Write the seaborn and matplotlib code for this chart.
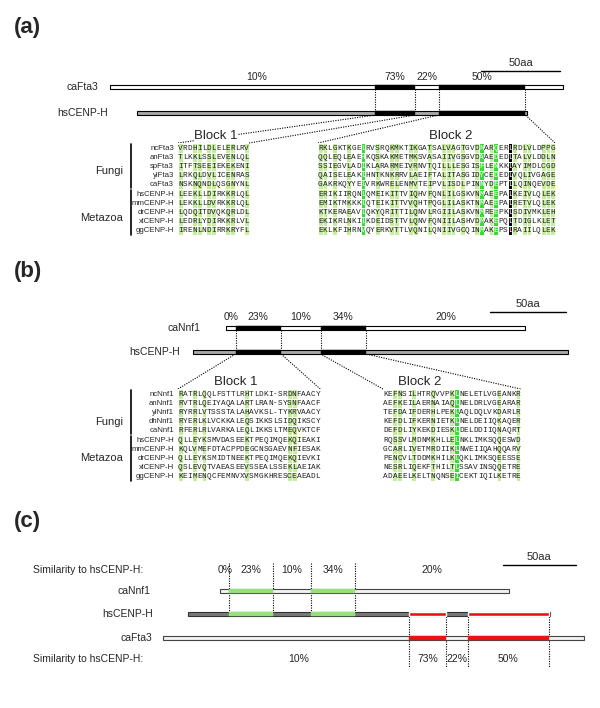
import numpy as np
import seaborn as sns
import matplotlib.pyplot as plt
from matplotlib.colors import ListedColormap

# protein coordinates given in hsCENP-H residues
hs_len = 247
fta3_span = (-17, 270)
fta3_blocks = [(151, 176), (191, 246)]
fta3_pct = ["10%", "73%", "22%", "50%"]
nnf1_span = (22, 219)
nnf1_blocks = [(28, 58), (84, 114)]
nnf1_pct = ["0%", "23%", "10%", "34%", "20%"]
scale_aa = 50

fungi_fta3 = ["ncFta3", "anFta3", "spFta3", "ylFta3", "caFta3"]
fungi_nnf1 = ["ncNnf1", "anNnf1", "ylNnf1", "dhNnf1", "caNnf1"]
metazoa = ["hsCENP-H", "mmCENP-H", "drCENP-H", "xlCENP-H", "ggCENP-H"]

fta3_block1 = [
    "VRDHILDLELERLRV", "TLKKLSSLEVENLQL", "ITFTSEEIEKEKENI",
    "LRKQLDVLICENRAS", "NSKNQNDLQSGNYNL", "LEEKLLDIRKKRLQL",
    "LEKKLLDVRKKRLQL", "LQDQITDVQKQRLDL", "LEDRLYDIRKKRLVL",
    "IRENLNDIRRKRYFL",
]
fta3_block2 = [
    "RKLGKTKGELRVSRQKMKTIKGATSALVAGTGVDNARQERLRDLVLDPPG",
    "QQLEQLEAEHKQSKAKMETMKSVASAIIVGSGVDAAEDEDLTALVLDDLN",
    "SSIEGVLADLKLARARMEIVRNVTQILLLESGISFLENKKLAYIMDLCGD",
    "QAISELEAKLHNTKNKRRVLAEIFTALITASGIDYCEDEDLVQLIVGAGE",
    "GAKRKQYYELVRKWRELENMVTEIPVLISDLPINNYDEPTLLQINQEVDE",
    "ERIKIIRQNLQMEIKITTVIQHVFQNLILGSKVNMAEEPALKEIVLQLEK",
    "EMIKTMKKKLQTEIKITTVVQHTPQGLILASKTNMAEEPALRETVLQLEK",
    "KTKERAEAVLQKYQRITTILQNVLRGIILASKVNMREEPKLSDIVMKLEH",
    "EKIKRLNKILKDEIDSTTVLQNVFQNIILASHVDMAKEPQLTDIGLKLET",
    "EKLKFIHRNVQYERKVTTLVQNILQNIIVGCQINMAKEPSLRAIILQLEK",
]
nnf1_block1 = [
    "RATRLQQLFSTTLRHTLDKI-SRDNFAACY", "RVTRLQEIYAQALARTLRAN-SYSNFAACF",
    "RYRRLVTSSSTALAHAVKSL-TYKRVAACY", "RYERLKLVCKKALEQSIKKSLSIDQIKSCY",
    "RFERLRLVARKALEQLIKKSLTMEQVKTCF", "QLLEYKSMVDASEEKTPEQIMQEKQIEAKI",
    "KQLVMEFDTACPPDEGCNSGAEVNFIESAK", "QLLEYKSMIDTNEEKTPEQIMQEKQIEVKI",
    "QSLEVQTVAEASEEVSSEALSSEKLAEIAK", "KEIMENQCFEMNVXVSMGKHRESCEAEADL",
]
nnf1_block2 = [
    "KEFNSILHTRQVVPKLNELETLVGEANKR", "AEFKEILAERNAIAQLNELDRLVGEARAR",
    "TEFDAIFDERHLPEKLAQLDQLVKDARLR", "KEFDLIFKERNIETKLNELDEIIQKAQER",
    "DEFDLIYKEKDIESKLDELDDIIQNAQRT", "RQSSVLMDNMKHLLELNKLIMKSQQESWD",
    "GCARLIVETMRDIIKLNWEIIQAHQQARV", "PENCVLTDDMKHILKLQKLIMKSQEESSE",
    "NESRLIQEKFTHILTLSSAVINSQQETRE", "ADAEELKELTNQNSEICEKTIQILKETRE",
]

# highlighted alignment columns (1-based)
fta3_b1_light = [1, 4, 5, 7, 8, 11, 12, 15]
fta3_b2_light = [1, 2, 4, 7, 13, 16, 17, 20, 21, 24, 27, 28, 29, 31, 34,
                 37, 42, 44, 45, 48, 49, 50]
fta3_b2_bright = [10, 35, 38]
fta3_b2_black = [41]
nnf1_b1_light = [1, 4, 6, 15, 24, 25]
nnf1_b2_light = [3, 4, 7, 11, 15, 25, 29]
nnf1_b2_bright = [16]

W, H = 600, 708
CW, RH = 4.74, 9.2

sns.set_theme(style="white")
plt.rcParams["font.family"] = ["Liberation Sans", "DejaVu Sans"]

fig = plt.figure(figsize=(6, 7.08), dpi=100)
ax = fig.add_axes([0, 0, 1, 1])
ax.set_xlim(0, W)
ax.set_ylim(H, 0)
ax.axis("off")

dot = dict(color="black", lw=0.8, ls=(0, (1, 1.2)), zorder=1)


def px(panel, aa):
    x0, s = panel
    return x0 + aa * s


def protein(panel, y, span, fill, edge="black", h=4.5, segs=(),
            seg_color="black", seg_h=None):
    x0, s = panel
    ax.barh(y, (span[1] - span[0]) * s, left=px(panel, span[0]), height=h,
            color=fill, edgecolor=edge, lw=0.8, zorder=2)
    for a, b in segs:
        ax.barh(y, (b - a) * s, left=px(panel, a), height=seg_h or h,
                color=seg_color, edgecolor=seg_color, lw=0.3, zorder=3)


def pct_labels(panel, y, bounds, labels):
    for a, b, t in zip(bounds[:-1], bounds[1:], labels):
        ax.text(px(panel, (a + b) / 2), y, t, ha="center", va="center",
                fontsize=7.5)


def scale_bar(panel, x_right, y):
    s = panel[1]
    ax.plot([x_right - scale_aa * s, x_right], [y, y], color="black", lw=1)
    ax.text(x_right - scale_aa * s / 2, y - 8, f"{scale_aa}aa", ha="center",
            va="center", fontsize=8)


def block(seqs, x0, y_top, light, bright=(), black=()):
    n = len(seqs[0])
    codes = np.zeros((len(seqs), n))
    for c in light:
        codes[:, c - 1] = 1
    for c in bright:
        codes[:, c - 1] = 2
    for c in black:
        codes[:, c - 1] = 3
    letters = np.array([list(s) for s in seqs])
    cax = fig.add_axes([x0 / W, 1 - (y_top + len(seqs) * RH) / H,
                        n * CW / W, len(seqs) * RH / H])
    sns.heatmap(codes, ax=cax, cmap=ListedColormap(
        ["white", "#c4ee9c", "#2fe02f", "black"]), vmin=-0.5, vmax=3.5,
        cbar=False, annot=letters, fmt="", xticklabels=False,
        yticklabels=False, linewidths=0.5, linecolor="white",
        annot_kws={"fontsize": 5.6, "family": "Liberation Mono"})
    for t, c in zip(cax.texts, codes.flat):
        t.set_color("white" if c >= 2 else "#222222")
    return n * CW


def groups(names, y0, x_names, x_bar, fungi_y, meta_y):
    for i, nm in enumerate(names):
        ax.text(x_names, y0 + i * RH, nm, ha="right", va="center",
                fontsize=5.6)
    ax.plot([x_bar, x_bar], [y0 - 4.5, y0 + 4 * RH + 3.5], color="black",
            lw=1.2)
    ax.plot([x_bar, x_bar], [y0 + 4.6 * RH, y0 + 9 * RH + 4.5], color="black",
            lw=1.2)
    ax.text(123, fungi_y, "Fungi", ha="right", va="center", fontsize=8)
    ax.text(123, meta_y, "Metazoa", ha="right", va="center", fontsize=8)


# ---------------- (a) ----------------
pa = (137, 390 / hs_len)
ax.text(14, 28, "(a)", fontsize=16, fontweight="bold", va="center")
scale_bar(pa, 560, 71)
pct_labels(pa, 77, [0, 151, 176, 191, 246], fta3_pct)
ax.text(98, 87, "caFta3", ha="right", va="center", fontsize=7.5)
ax.text(108, 113, "hsCENP-H", ha="right", va="center", fontsize=7.5)
protein(pa, 87, fta3_span, "white", segs=fta3_blocks)
protein(pa, 113, (0, hs_len), "#a8a8a8", segs=fta3_blocks)
for a, b in fta3_blocks:
    for e in (a, b):
        ax.plot([px(pa, e)] * 2, [89, 111], **dot)

rows_a = 148
groups(fungi_fta3 + metazoa, rows_a, 174, 131, 171, 218)
w1 = block(fta3_block1, 178, rows_a - RH / 2, fta3_b1_light)
w2 = block(fta3_block2, 318, rows_a - RH / 2, fta3_b2_light, fta3_b2_bright,
           fta3_b2_black)
for (a, b), x0, w in zip(fta3_blocks, (178, 318), (w1, w2)):
    ax.plot([x0, px(pa, a)], [rows_a - 5, 115], **dot)
    ax.plot([x0 + w, px(pa, b)], [rows_a - 5, 115], **dot)
ax.text(216, 136, "Block 1", ha="center", va="center", fontsize=9.5,
        bbox=dict(fc="white", ec="none", pad=0.5), zorder=4)
ax.text(451, 136, "Block 2", ha="center", va="center", fontsize=9.5,
        bbox=dict(fc="white", ec="none", pad=0.5), zorder=4)

# ---------------- (b) ----------------
pb = (193, 375 / hs_len)
ax.text(14, 272, "(b)", fontsize=16, fontweight="bold", va="center")
scale_bar(pb, 566, 312)
pct_labels(pb, 317, [22, 28, 58, 84, 114, 219], nnf1_pct)
ax.text(201, 328, "caNnf1", ha="right", va="center", fontsize=7.5)
ax.text(180, 352, "hsCENP-H", ha="right", va="center", fontsize=7.5)
protein(pb, 328, nnf1_span, "white", segs=nnf1_blocks)
protein(pb, 352, (0, hs_len), "#a8a8a8", segs=nnf1_blocks)
for a, b in nnf1_blocks:
    for e in (a, b):
        ax.plot([px(pb, e)] * 2, [330, 350], **dot)

rows_b = 394
groups(fungi_nnf1 + metazoa, rows_b, 174, 131, 422, 458)
w1 = block(nnf1_block1, 178, rows_b - RH / 2, nnf1_b1_light)
w2 = block(nnf1_block2, 383, rows_b - RH / 2, nnf1_b2_light, nnf1_b2_bright)
for (a, b), x0, w in zip(nnf1_blocks, (178, 383), (w1, w2)):
    ax.plot([x0, px(pb, a)], [rows_b - 5, 354], **dot)
    ax.plot([x0 + w, px(pb, b)], [rows_b - 5, 354], **dot)
ax.text(236, 382, "Block 1", ha="center", va="center", fontsize=9.5,
        bbox=dict(fc="white", ec="none", pad=0.5), zorder=4)
ax.text(420, 382, "Block 2", ha="center", va="center", fontsize=9.5,
        bbox=dict(fc="white", ec="none", pad=0.5), zorder=4)

# ---------------- (c) ----------------
pc = (188, 362 / hs_len)
green, red = "#95e07a", "#ee1111"
ax.text(14, 522, "(c)", fontsize=16, fontweight="bold", va="center")
scale_bar(pc, 576, 565)
ax.text(33, 570, "Similarity to hsCENP-H:", ha="left", va="center",
        fontsize=7.5)
ax.text(33, 659, "Similarity to hsCENP-H:", ha="left", va="center",
        fontsize=7.5)
pct_labels(pc, 570, [22, 28, 58, 84, 114, 219], nnf1_pct)
pct_labels(pc, 659, [0, 151, 176, 191, 246], fta3_pct)
ax.text(151, 591, "caNnf1", ha="right", va="center", fontsize=7.5)
ax.text(153, 614, "hsCENP-H", ha="right", va="center", fontsize=7.5)
ax.text(152, 638, "caFta3", ha="right", va="center", fontsize=7.5)
protein(pc, 591, nnf1_span, "#f2f2f2", edge="#444444", h=3.5,
        segs=nnf1_blocks, seg_color=green, seg_h=4.5)
protein(pc, 614, (0, hs_len), "#7a7a7a", edge="#333333", h=3.5,
        segs=nnf1_blocks, seg_color=green, seg_h=4.5)
for a, b in fta3_blocks:
    ax.barh(614, (b - a) * pc[1], left=px(pc, a), height=4.5, color=red,
            zorder=4)
protein(pc, 638, fta3_span, "#f2f2f2", edge="#444444", h=3.5,
        segs=fta3_blocks, seg_color=red, seg_h=4.5)
for a, b in nnf1_blocks:
    for e in (a, b):
        ax.plot([px(pc, e)] * 2, [563, 614], **dot)
for a, b in fta3_blocks:
    for e in (a, b):
        ax.plot([px(pc, e)] * 2, [614, 667], **dot)

fig.savefig("out.png", dpi=100)
